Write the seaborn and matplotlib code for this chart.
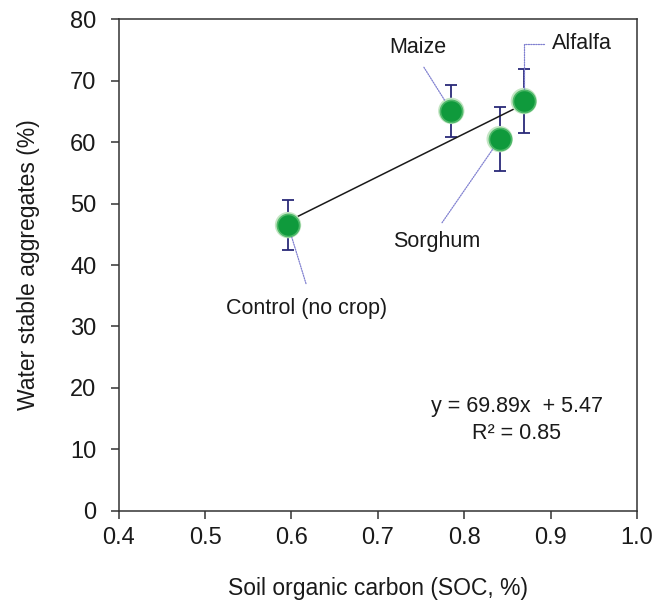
import numpy as np
import pandas as pd
import matplotlib
matplotlib.use("Agg")
import matplotlib.pyplot as plt
import seaborn as sns

# Treatment means of soil organic carbon and water stable aggregates
treatments = ["Control (no crop)", "Maize", "Sorghum", "Alfalfa"]
soc = [0.596, 0.785, 0.841, 0.869]
wsa = [46.5, 65.1, 60.5, 66.7]
wsa_err = [4.05, 4.25, 5.15, 5.25]

# Linear fit reported on the chart
slope = 69.89
intercept = 5.47
r_squared = 0.85

x_ticks = [0.4, 0.5, 0.6, 0.7, 0.8, 0.9, 1.0]
y_ticks = [0, 10, 20, 30, 40, 50, 60, 70, 80]

sns.set_style("white")
plt.rcParams["font.family"] = ["Liberation Sans", "DejaVu Sans"]

df = pd.DataFrame({"treatment": treatments, "soc": soc, "wsa": wsa, "err": wsa_err})

fig = plt.figure(figsize=(6.57, 6.05), dpi=100)
ax = fig.add_axes([0.1807, 0.1559, 0.7889, 0.8121])

# Trend line across the range of the treatments
fit_x = np.array([min(soc), max(soc)])
fit_df = pd.DataFrame({"soc": fit_x, "wsa": slope * fit_x + intercept})
sns.lineplot(data=fit_df, x="soc", y="wsa", ax=ax, color="#1a1a1a", lw=1.1, zorder=2)

# Error bars
ax.errorbar(df["soc"], df["wsa"], yerr=df["err"], fmt="none", ecolor="#2a2a78",
            elinewidth=1.3, capsize=4.3, capthick=1.3, zorder=1)

# Points with a soft light rim
sns.scatterplot(data=df, x="soc", y="wsa", ax=ax, s=360, color="#c4e6c4",
                edgecolor="none", zorder=3, legend=False)
sns.scatterplot(data=df, x="soc", y="wsa", ax=ax, s=255, color="#0f9a3c",
                edgecolor="#4fb86a", linewidth=1.2, zorder=4, legend=False)

# Leader-line labels
leader = dict(arrowstyle="-", linestyle=(0, (1, 1)), color="#8080d0", lw=0.9)
label_fs = 15.5
ax.annotate("Maize", xy=(soc[1], wsa[1]), xytext=(0.7466, 75.4),
            ha="center", va="center", fontsize=label_fs, color="#1a1a1a",
            arrowprops=dict(leader, shrinkA=5, shrinkB=9, relpos=(0.5, 0)))
ax.annotate("Alfalfa", xy=(soc[3], wsa[3]), xytext=(0.902, 76.0),
            ha="left", va="center", fontsize=label_fs, color="#1a1a1a",
            arrowprops=dict(leader, shrinkA=4, shrinkB=8, relpos=(0, 0.5),
                            connectionstyle="angle,angleA=0,angleB=90,rad=0"))
ax.annotate("Sorghum", xy=(soc[2], wsa[2]), xytext=(0.768, 43.9),
            ha="center", va="center", fontsize=label_fs, color="#1a1a1a",
            arrowprops=dict(leader, shrinkA=4, shrinkB=7, relpos=(0.5, 1)))
ax.annotate("Control (no crop)", xy=(soc[0], wsa[0]), xytext=(0.618, 33.0),
            ha="center", va="center", fontsize=label_fs, color="#1a1a1a",
            arrowprops=dict(leader, shrinkA=8, shrinkB=8, relpos=(0.52, 1)))

# Regression equation
ax.text(0.861, 17.0, f"y = {slope:.2f}x  + {intercept:.2f}", ha="center", va="center",
        fontsize=15.5, color="#1a1a1a")
ax.text(0.861, 12.6, f"R² = {r_squared:.2f}", ha="center", va="center",
        fontsize=15.5, color="#1a1a1a")

ax.set_xlim(0.4, 1.0)
ax.set_ylim(0, 80)
ax.set_xticks(x_ticks)
ax.set_yticks(y_ticks)
ax.set_xticklabels([f"{t:.1f}" for t in x_ticks])
ax.set_yticklabels([str(t) for t in y_ticks])
ax.tick_params(axis="both", which="major", direction="out", length=6, width=1.1,
               labelsize=17, colors="#333333", labelcolor="#1a1a1a",
               bottom=True, left=True, top=False, right=False)
ax.tick_params(axis="x", pad=6)
ax.tick_params(axis="y", pad=10)
for side in ["left", "bottom", "top", "right"]:
    ax.spines[side].set_visible(True)
    ax.spines[side].set_color("#333333")
    ax.spines[side].set_linewidth(1.1)

ax.set_xlabel("Soil organic carbon (SOC, %)", fontsize=16.5, color="#1a1a1a", labelpad=20)
ax.set_ylabel("Water stable aggregates (%)", fontsize=16.5, color="#1a1a1a", labelpad=22)

fig.savefig("out.png", dpi=100, facecolor="white")
